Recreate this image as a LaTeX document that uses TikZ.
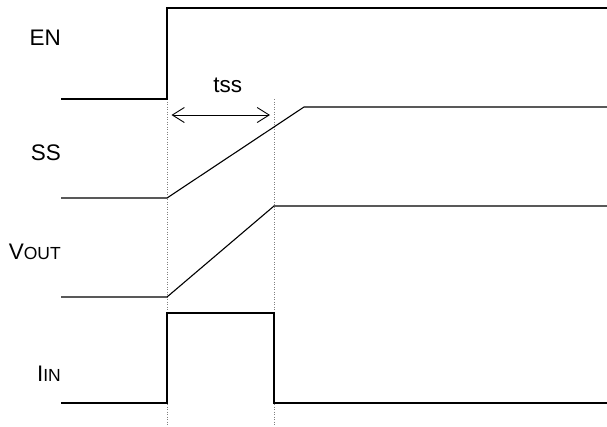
\documentclass[tikz,border=0pt]{standalone}
\usepackage{fontspec}
\setmainfont{Liberation Sans}
\usetikzlibrary{arrows.meta}
\tikzset{
  wave/.style={line width=1.1pt, line join=miter},
  guide/.style={line width=0.5pt, gray, dotted},
  sig/.style={font=\fontsize{22.5}{26}\selectfont, anchor=base east, inner sep=0pt},
  dim/.style={line width=0.9pt, {Straight Barb[length=12pt,width=15pt]}-{Straight Barb[length=12pt,width=15pt]}},
}
\newcommand{\smallpart}[1]{{\fontsize{17.5}{20}\selectfont #1}}
\begin{document}
\begin{tikzpicture}[x=1pt,y=-1pt]
\useasboundingbox (0,0) rectangle (607,426);
% labels
\node[sig] (en) at (61,45.7) {EN};
\node[sig] (ss) at (61,160.7) {SS};
\node[sig] (vout) at (61,259.3) {V\smallpart{OUT}};
\node[sig] (iin) at (61,381.7) {I\smallpart{IN}};
\node[sig, anchor=base] (tss) at (227.7,92.7) {tss};
% coordinates
\coordinate (enA) at (61,99);  \coordinate (enB) at (167,99);
\coordinate (enC) at (167,8);  \coordinate (enD) at (607,8);
\coordinate (ssA) at (61,198); \coordinate (ssB) at (167,198);
\coordinate (ssC) at (304,107);\coordinate (ssD) at (607,107);
\coordinate (voA) at (61,297); \coordinate (voB) at (167,297);
\coordinate (voC) at (274,206);\coordinate (voD) at (607,206);
\coordinate (inA) at (61,403); \coordinate (inB) at (167,403);
\coordinate (inC) at (167,313);\coordinate (inD) at (274,313);
\coordinate (inE) at (274,403);\coordinate (inF) at (607,403);
\coordinate (g1t) at (167,99); \coordinate (g1b) at (167,426);
\coordinate (g2t) at (274,99); \coordinate (g2b) at (274,426);
\coordinate (arL) at (171.5,115); \coordinate (arR) at (270,115);
% guides
\draw[guide] (g1t) -- (g1b);
\draw[guide] (g2t) -- (g2b);
% waves
\draw[wave] (enA) -- (enB) -- (enC) -- (enD);
\draw[wave] (ssA) -- (ssB) -- (ssC) -- (ssD);
\draw[wave] (voA) -- (voB) -- (voC) -- (voD);
\draw[wave] (inA) -- (inB) -- (inC) -- (inD) -- (inE) -- (inF);
% tss arrow
\draw[dim] (arL) -- (arR);
\end{tikzpicture}
\end{document}
